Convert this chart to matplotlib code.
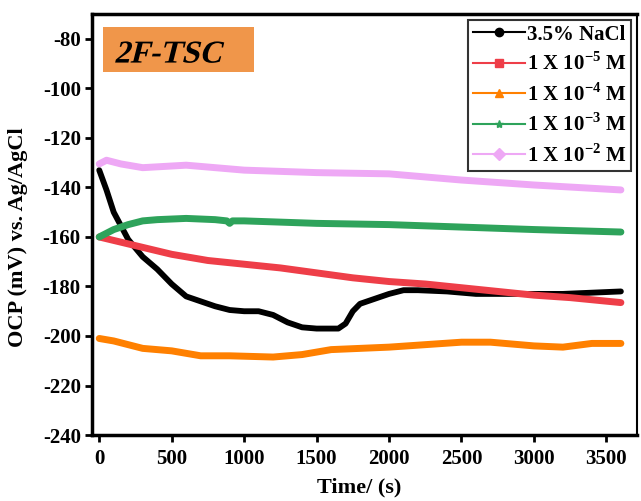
import numpy as np
import matplotlib.pyplot as plt
from matplotlib.patches import Rectangle, PathPatch
from matplotlib.font_manager import FontProperties
from matplotlib.textpath import TextPath
from matplotlib.transforms import Affine2D, ScaledTranslation

plt.rcParams['font.family'] = ['Liberation Serif', 'DejaVu Serif']
plt.rcParams['font.weight'] = 'bold'
plt.rcParams['axes.unicode_minus'] = False
plt.rcParams['mathtext.fontset'] = 'custom'
plt.rcParams['mathtext.rm'] = 'Liberation Serif:bold'
plt.rcParams['mathtext.bf'] = 'Liberation Serif:bold'

# time (s) and OCP (mV)
t_nacl = [0, 50, 100, 200, 300, 400, 500, 600, 700, 800, 900, 1000, 1100, 1200, 1300,
          1400, 1500, 1600, 1650, 1700, 1750, 1800, 1900, 2000, 2100, 2200, 2400, 2600,
          2800, 3000, 3200, 3400, 3600]
v_nacl = [-133, -141, -150, -161, -168, -173, -179, -184, -186, -188, -189.5, -190, -190,
          -191.5, -194.5, -196.5, -197, -197, -197, -195, -190, -187, -185, -183, -181.5,
          -181.5, -182, -183, -183, -183, -183, -182.5, -182]

t_e5 = [0, 250, 500, 750, 1000, 1250, 1500, 1750, 2000, 2250, 2500, 2750, 3000, 3250, 3600]
v_e5 = [-160, -163.5, -167, -169.5, -171, -172.5, -174.5, -176.5, -178, -179, -180.5,
        -182, -183.5, -184.5, -186.5]

t_e4 = [0, 100, 300, 500, 700, 900, 1200, 1400, 1600, 1800, 2000, 2250, 2500, 2700,
        3000, 3200, 3400, 3600]
v_e4 = [-201, -202, -205, -206, -208, -208, -208.5, -207.5, -205.5, -205, -204.5, -203.5,
        -202.5, -202.5, -204, -204.5, -203, -203]

t_e3 = [0, 100, 200, 300, 400, 600, 800, 880, 900, 920, 1000, 1500, 2000, 2500, 3000, 3600]
v_e3 = [-160, -157, -155, -153.5, -153, -152.5, -153, -153.5, -154.5, -153.5, -153.5,
        -154.5, -155, -156, -157, -158]

t_e2 = [0, 50, 150, 300, 450, 600, 800, 1000, 1500, 2000, 2500, 3000, 3600]
v_e2 = [-130.5, -129, -130.5, -132, -131.5, -131, -132, -133, -134, -134.5, -137, -139,
        -141]

labels = ['3.5% NaCl', r'1 X 10$^{\mathbf{-5}}$ M', r'1 X 10$^{\mathbf{-4}}$ M',
          r'1 X 10$^{\mathbf{-3}}$ M', r'1 X 10$^{\mathbf{-2}}$ M']
colors = ['black', '#EE3E48', '#FF8000', '#2EA35B', '#EEA8F5']
markers = ['o', 's', '^', '*', 'D']
widths = [4.2, 5, 5, 5, 5]

fig = plt.figure(figsize=(6.41, 5.01), dpi=100)
ax = fig.add_axes([0.1435, 0.1317, 0.850, 0.840])

series = [(t_nacl, v_nacl), (t_e5, v_e5), (t_e4, v_e4), (t_e3, v_e3), (t_e2, v_e2)]
for (t, v), lab, c, m, w in zip(series, labels, colors, markers, widths):
    ax.plot(t, v, color=c, lw=w, solid_capstyle='round', zorder=3)
    ax.plot([], [], color=c, lw=1.5, marker=m, ms=6, label=lab)

ax.set_xlim(-50, 3710)
ax.set_ylim(-240, -70)
ax.set_xticks(np.arange(0, 3501, 500))
ax.set_yticks(np.arange(-240, -79, 20))
ax.tick_params(direction='out', length=5, width=2, labelsize=15, pad=3)
ax.tick_params(axis='x', pad=5)
for s in ['left', 'bottom', 'top']:
    ax.spines[s].set_linewidth(2.5)
ax.spines['right'].set_linewidth(1.5)

ax.set_xlabel('Time/ (s)', fontsize=16, fontweight='bold')
ax.set_ylabel('OCP (mV) vs. Ag/AgCl', fontsize=16, fontweight='bold')
ax.yaxis.set_label_coords(-0.117, 0.47)
ax.xaxis.set_label_coords(0.49, -0.1)

# sample label box; bold italic drawn as a slanted bold path
ax.add_patch(Rectangle((0.020, 0.862), 0.277, 0.107, transform=ax.transAxes,
                       fc='#F0964A', ec='none', zorder=4))
tp = TextPath((0, 0), '2F-TSC', size=23,
              prop=FontProperties(family='Liberation Serif', weight='bold'))
tr = (Affine2D().skew_deg(14, 0).scale(fig.dpi / 72.0)
      + ScaledTranslation(0.040, 0.885, ax.transAxes))
ax.add_artist(PathPatch(tp, transform=tr, fc='black', ec='none', zorder=5))

leg = ax.legend(loc='upper right', fontsize=15, frameon=True, fancybox=False,
                handlelength=2.5, handletextpad=0.1, borderpad=0.2, labelspacing=0.38,
                borderaxespad=0.3)
leg.get_frame().set_edgecolor('black')
leg.get_frame().set_linewidth(1.5)

fig.savefig('out.png', dpi=100)
